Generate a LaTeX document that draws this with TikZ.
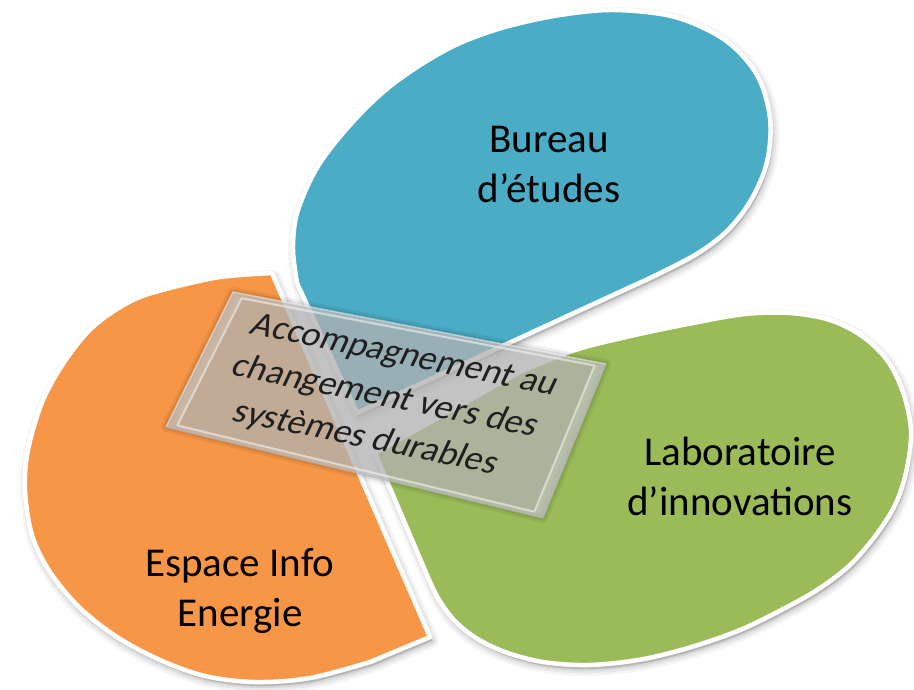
\documentclass[tikz,border=0pt]{standalone}
\usepackage{fontspec}
\setmainfont{Carlito}
\usetikzlibrary{calc}
\definecolor{cBlue}{HTML}{4BACC6}
\definecolor{cOrange}{HTML}{F79646}
\definecolor{cGreen}{HTML}{9BBB59}
\definecolor{cSlab}{HTML}{BABABA}
\def\BluePathX{(357,413) -- plot[smooth, tension=0.55] coordinates {(297,283) (293,250) (296,217) (308,185) (322,160) (343,133) (368,106) (393,84) (425,62) (460,43) (505,27) (560,15) (615,10) (675,17) (725,40) (757,75) (770,118) (767,162) (751,200) (727,231) (695,255) (650,278)} -- cycle}
\def\OrangePathX{(272,273) -- plot[smooth, tension=0.55] coordinates {(272,273) (220,277) (170,288) (133,300) (95,325) (67,358) (43,400) (28,450) (25,490) (32,535) (50,572) (80,608) (117,637) (160,660) (205,676) (255,682) (310,678) (370,662)} -- (430,637) -- cycle}
\def\GreenPathX{(375,453) -- plot[smooth, tension=0.55] coordinates {(520,372) (575,350) (635,335) (693,323) (745,314) (790,313) (830,320) (862,336) (887,360) (903,392) (911,430) (907,468) (896,503) (876,535) (850,565) (820,588) (787,607) (740,630) (688,648) (638,660) (588,665) (543,662) (505,652) (476,638) (454,620) (438,598) (427,575)} -- cycle}
\tikzset{
  shapeshadow/.style={draw=black, fill=black, line join=round, shift={(2,4)}},
  petal/.style={draw=white, line width=4.5, line join=round},
  lbl/.style={align=center, font=\fontsize{41}{50}\selectfont, text=black, inner sep=0pt},
  slabtext/.style={align=center, font=\fontsize{36}{46}\selectfont, text=black!88, inner sep=0pt}
}
\begin{document}
\begin{tikzpicture}[x=1pt, y=-1pt]
\useasboundingbox (0,0) rectangle (914,689);
\fill[white] (0,0) rectangle (914,689);
% soft shadows
\foreach \w/\o in {14/0.04, 9/0.05, 4/0.07}{
  \path[shapeshadow, line width=\w, opacity=\o] \BluePathX;
  \path[shapeshadow, line width=\w, opacity=\o] \OrangePathX;
  \path[shapeshadow, line width=\w, opacity=\o] \GreenPathX;
}
% petals
\path[petal, fill=cBlue] \BluePathX;
\path[petal, fill=cOrange] \OrangePathX;
\path[petal, fill=cGreen] \GreenPathX;
% central slab
\coordinate (TL) at (233,292);
\coordinate (TR) at (606,364);
\coordinate (BR) at (543,518);
\coordinate (BL) at (166,427);
\coordinate (iTL) at ($(TL)!0.028!(BR)$);
\coordinate (iBR) at ($(BR)!0.028!(TL)$);
\coordinate (iTR) at ($(TR)!0.026!(BL)$);
\coordinate (iBL) at ($(BL)!0.026!(TR)$);
\foreach \w/\o in {10/0.06, 5/0.08}{
  \path[draw=black, fill=black, line width=\w, opacity=\o, line join=round, shift={(-3,7)}] (TL) -- (TR) -- (BR) -- (BL) -- cycle;
}
\fill[cSlab, opacity=0.72] (TL) -- (TR) -- (BR) -- (BL) -- cycle;
\fill[white, opacity=0.15, even odd rule] (TL) -- (TR) -- (BR) -- (BL) -- cycle (iTL) -- (iTR) -- (iBR) -- (iBL) -- cycle;
\draw[white, opacity=0.45, line width=1.5, line join=round] (TL) -- (TR) -- (BR) -- (BL) -- cycle;
\draw[white, opacity=0.5, line width=2, line join=round] (iTL) -- (iTR) -- (iBR) -- (iBL) -- cycle;
\draw[black, opacity=0.15, line width=1.5] (BL) -- (BR) -- (TR);
\node[slabtext, cm={0.98,-0.2,0.42,0.9,(0,0)}] (slab) at (385,398) {Accompagnement au\\changement vers des\\systèmes durables};
% labels
\node[lbl] (bureau) at (549,164) {Bureau\\d’études};
\node[lbl] (labo) at (740,476) {Laboratoire\\d’innovations};
\node[lbl] (eie) at (240,591) {Espace Info\\Energie};
\end{tikzpicture}
\end{document}
